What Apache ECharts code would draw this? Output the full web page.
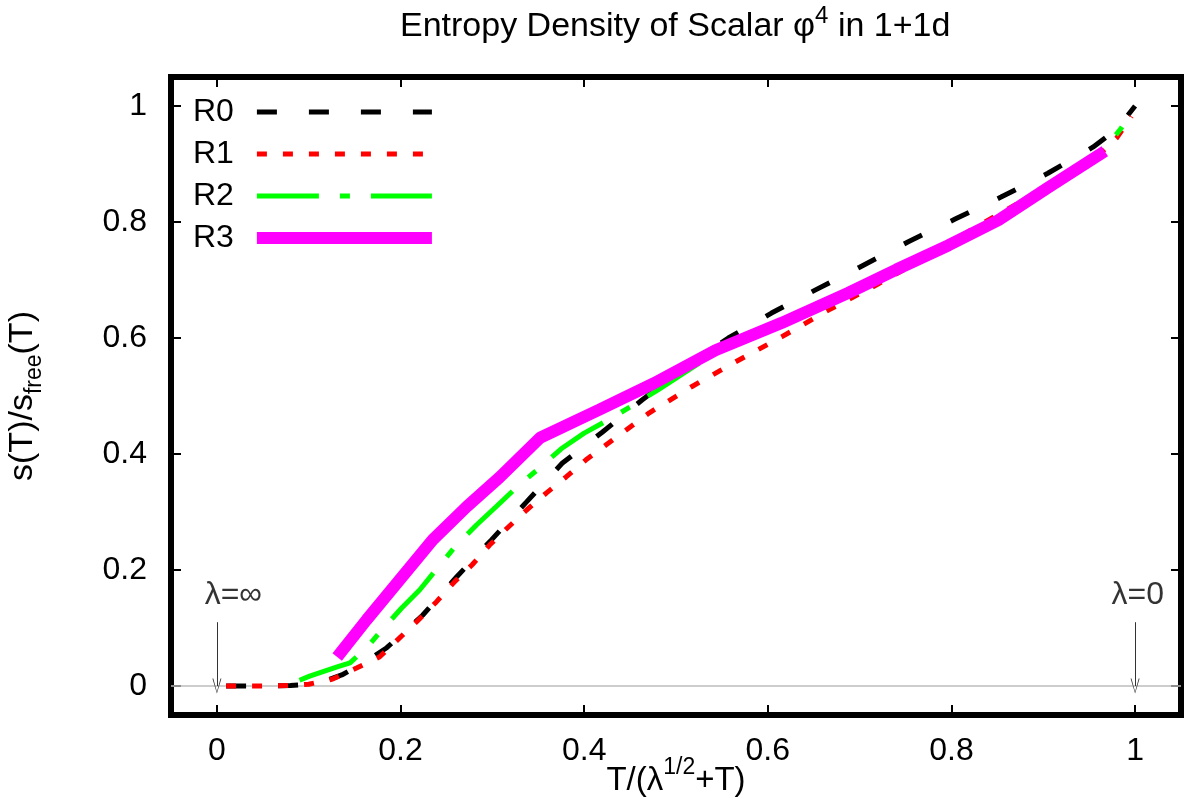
<!DOCTYPE html>
<html><head><meta charset="utf-8">
<script src="https://cdn.jsdelivr.net/npm/echarts@6/dist/echarts.min.js"></script>
<style>html,body{margin:0;padding:0;background:#fff}#c{width:1184px;height:809px}</style>
</head><body><div id="c"></div>
<script>
const FONT = "'Liberation Sans', Arial, sans-serif";
const xTicks = [0, 0.2, 0.4, 0.6, 0.8, 1];
const yTicks = [0, 0.2, 0.4, 0.6, 0.8, 1];
const seriesNames = ['R0', 'R1', 'R2', 'R3'];

const r0 = [[0.01,0],[0.05,0],[0.08,0.001],[0.1,0.003],[0.12,0.01],[0.136,0.019],[0.16,0.04],[0.185,0.066],[0.224,0.122],[0.261,0.188],[0.299,0.252],[0.337,0.317],[0.376,0.384],[0.42,0.438],[0.463,0.493],[0.51,0.55],[0.557,0.6],[0.604,0.643],[0.652,0.683],[0.70,0.722],[0.753,0.766],[0.804,0.805],[0.854,0.843],[0.905,0.884],[0.954,0.929],[0.98,0.96],[1.0,1.0]];
const r1 = [[0.01,0],[0.05,0],[0.08,0.001],[0.1,0.003],[0.115,0.008],[0.126,0.012],[0.152,0.031],[0.177,0.05],[0.199,0.083],[0.217,0.11],[0.239,0.145],[0.259,0.18],[0.278,0.209],[0.297,0.243],[0.316,0.272],[0.337,0.303],[0.359,0.333],[0.38,0.36],[0.402,0.39],[0.424,0.416],[0.471,0.471],[0.517,0.516],[0.565,0.559],[0.615,0.602],[0.666,0.648],[0.72,0.693],[0.77,0.737],[0.82,0.785],[0.87,0.83],[0.92,0.872],[0.96,0.915],[0.98,0.945],[0.996,0.982]];
const r2 = [[0.09,0.01],[0.101,0.017],[0.131,0.033],[0.145,0.04],[0.163,0.066],[0.18,0.097],[0.201,0.134],[0.221,0.166],[0.241,0.205],[0.261,0.243],[0.283,0.278],[0.304,0.309],[0.328,0.345],[0.353,0.378],[0.375,0.409],[0.40,0.436],[0.43,0.462],[0.457,0.488],[0.48,0.51],[0.543,0.575],[0.615,0.624],[0.688,0.677],[0.775,0.743],[0.851,0.803],[0.905,0.859],[0.945,0.9],[0.968,0.928],[0.985,0.962],[0.997,0.993]];
const r3 = [[0.131,0.05],[0.163,0.114],[0.199,0.183],[0.235,0.252],[0.272,0.309],[0.308,0.36],[0.352,0.428],[0.416,0.476],[0.476,0.522],[0.543,0.579],[0.615,0.626],[0.688,0.678],[0.74,0.718],[0.797,0.76],[0.851,0.803],[0.905,0.859],[0.967,0.922]];

const zeroLine = [[-0.05,0],[1.05,0]];
const arrows = [[[0,0.11],[0,0]],[[1,0.11],[1,0]]];
const annotations = [[0.018,0.157,'λ=∞'],[1.003,0.157,'λ=0']];

const colors = ['#000000', '#ff0000', '#00ff00', '#ff00ff'];
const widths = [5, 5, 5, 12];
const dashes = [[20,32], [10,16], [62,21,10,21], 'solid'];
const dataSets = [r0, r1, r2, r3];

const chevron = 'path://M0,0 L-4,14 L-3.2,14 L0,1.6 L3.2,14 L4,14 Z';

const chart = echarts.init(document.getElementById('c'), null, {renderer:'canvas'});

const lineSeries = seriesNames.map((n, i) => ({
  name: n, type: 'line', data: dataSets[i], symbol: 'none', smooth: false,
  lineStyle: {color: colors[i], width: widths[i], type: dashes[i], cap: 'butt'},
  itemStyle: {color: colors[i]}, z: 3 + i, silent: true, animation: false
}));

const axisTickCommon = {show: true, inside: true, length: 10, lineStyle: {color: '#000', width: 2}};
const noLine = {show: false, onZero: false};

const option = {
  backgroundColor: '#fff',
  animation: false,
  title: {
    text: '{t|Entropy Density of Scalar φ}{sup|4}{t| in 1+1d}',
    left: 400, top: 9, padding: 0,
    textStyle: {
      fontWeight: 'normal',
      rich: {
        t: {fontSize: 34, fontFamily: FONT, fontWeight: 'normal', color: '#000', lineHeight: 35, verticalAlign: 'bottom'},
        sup: {fontSize: 24, fontFamily: FONT, fontWeight: 'normal', color: '#000', lineHeight: 24, padding: [0,0,16,0], verticalAlign: 'bottom'}
      }
    }
  },
  legend: {
    orient: 'vertical', left: 188, top: 91, align: 'right',
    itemWidth: 175, itemHeight: 14, itemGap: 10, selectedMode: false,
    textStyle: {fontSize: 32, fontFamily: FONT, color: '#000', lineHeight: 32, padding: [0, 18, 0, 0]},
    data: seriesNames.map((n, i) => ({name: n, itemStyle: {opacity: 0, color: 'transparent', borderWidth: 0}, lineStyle: {width: widths[i], color: colors[i], type: dashes[i]}}))
  },
  grid: {left: 171, right: 3, top: 77, bottom: 94, show: true, borderColor: '#000', borderWidth: 6, backgroundColor: 'transparent', outerBoundsMode: 'none'},
  xAxis: [{
    type: 'value', min: -0.05, max: 1.05, position: 'bottom',
    axisLine: noLine, splitLine: {show: false},
    axisTick: Object.assign({customValues: xTicks}, axisTickCommon),
    axisLabel: {customValues: xTicks, fontSize: 32, fontFamily: FONT, color: '#000', margin: 20},
    name: '{m|T/(λ}{sup|1/2}{m|+T)}', nameLocation: 'middle', nameGap: 48, nameMoveOverlap: false,
    nameTextStyle: {
      rich: {
        m: {fontSize: 33, fontFamily: FONT, color: '#000', lineHeight: 34, verticalAlign: 'bottom'},
        sup: {fontSize: 23, fontFamily: FONT, color: '#000', lineHeight: 23, padding: [0,0,18,0], verticalAlign: 'bottom'}
      }
    }
  }, {
    type: 'value', min: -0.05, max: 1.05, position: 'top',
    axisLine: noLine, splitLine: {show: false},
    axisTick: Object.assign({customValues: xTicks}, axisTickCommon),
    axisLabel: {show: false}
  }],
  yAxis: [{
    type: 'value', min: -0.05, max: 1.05, position: 'left',
    axisLine: noLine, splitLine: {show: false},
    axisTick: Object.assign({customValues: yTicks}, axisTickCommon),
    axisLabel: {customValues: yTicks, fontSize: 32, fontFamily: FONT, color: '#000', margin: 24},
    name: '{m|s(T)/s}{sub|free}{m|(T)}', nameLocation: 'middle', nameGap: 131,
    nameTextStyle: {
      rich: {
        m: {fontSize: 34, fontFamily: FONT, color: '#000', lineHeight: 34, verticalAlign: 'top'},
        sub: {fontSize: 23, fontFamily: FONT, color: '#000', lineHeight: 23, padding: [17,0,0,0], verticalAlign: 'top'}
      }
    }
  }, {
    type: 'value', min: -0.05, max: 1.05, position: 'right',
    axisLine: noLine, splitLine: {show: false},
    axisTick: Object.assign({customValues: yTicks}, axisTickCommon),
    axisLabel: {show: false}
  }],
  series: [
    {type: 'line', data: zeroLine, symbol: 'none', lineStyle: {color: '#bdbdbd', width: 1.5}, z: 1, silent: true},
    ...lineSeries,
    {
      type: 'line', data: [], silent: true, z: 10,
      markLine: {
        silent: true, animation: false,
        symbol: ['none', chevron], symbolSize: [9, 15],
        lineStyle: {color: '#333', width: 1, type: 'solid'},
        label: {show: false},
        data: arrows.map(a => [{coord: a[0]}, {coord: a[1]}])
      }
    },
    {
      type: 'scatter', data: annotations, symbolSize: 1, silent: true, z: 10,
      itemStyle: {color: 'rgba(0,0,0,0)'},
      label: {show: true, position: 'inside', formatter: p => p.data[2], fontSize: 32, fontFamily: FONT, color: '#000'}
    }
  ]
};
chart.setOption(option);
</script></body></html>
